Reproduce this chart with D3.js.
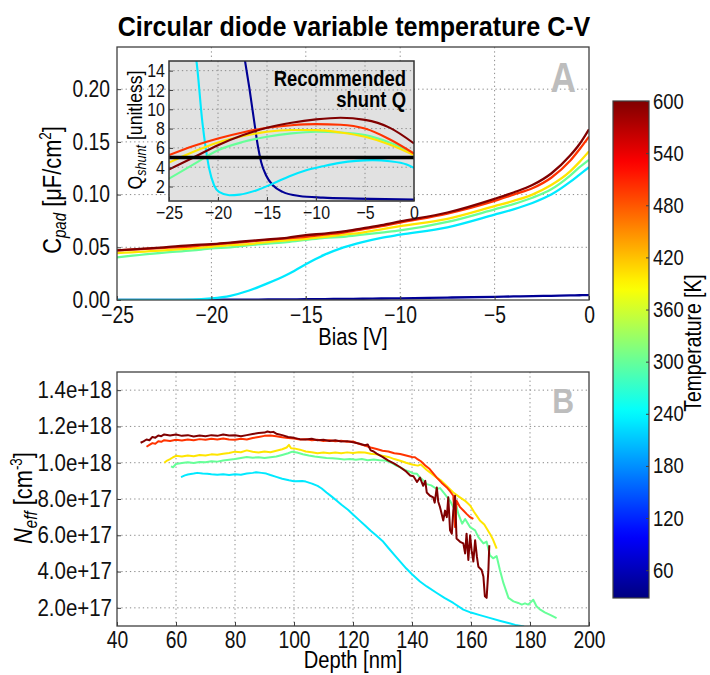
<!DOCTYPE html>
<html><head><meta charset="utf-8">
<script src="https://cdn.jsdelivr.net/npm/d3@7"></script>
<style>
body{margin:0;background:#fff}
svg{font-family:"Liberation Sans",Arial,Helvetica,sans-serif}
</style></head><body>
<svg id="chart" width="710" height="675"></svg>
<script>
// ---------------- DATA ----------------
const titleText = "Circular diode variable temperature C-V";
const temps = [40, 230, 300, 400, 500, 600];          // K, one per series
const tempDomain = [28, 600];
const cbTicks = [60, 120, 180, 240, 300, 360, 420, 480, 540, 600];

// Panel A: C_pad [uF/cm2] vs bias [V]
const biasA = [-25,-22.5,-21,-20,-19,-18,-17,-16,-15,-14,-13,-12,-11,-10,-7.5,-5,-4,-3,-2,-1,-0.5,0];
const cpad40  = [0,0,0,0.0002,0.0003,0.0004,0.0005,0.0006,0.0007,0.0009,0.0011,0.0012,0.0014,0.0016,0.0023,0.003,0.0034,0.0037,0.004,0.0044,0.0045,0.0047];
const cpad230 = [0,0,0.0003,0.0015,0.004,0.009,0.016,0.024,0.034,0.043,0.050,0.055,0.059,0.062,0.069,0.081,0.086,0.092,0.100,0.112,0.119,0.126];
const cpad300 = [0.0405,0.045,0.047,0.049,0.050,0.052,0.0535,0.055,0.057,0.059,0.060,0.062,0.064,0.066,0.074,0.086,0.091,0.097,0.105,0.118,0.126,0.133];
const cpad400 = [0.0445,0.047,0.049,0.0505,0.052,0.053,0.055,0.0565,0.058,0.060,0.062,0.064,0.067,0.070,0.077,0.089,0.094,0.100,0.109,0.122,0.131,0.141];
const cpad500 = [0.047,0.0495,0.051,0.0525,0.054,0.0555,0.057,0.0585,0.060,0.062,0.064,0.067,0.070,0.0735,0.082,0.094,0.100,0.106,0.116,0.132,0.143,0.155];
const cpad600 = [0.047,0.050,0.052,0.053,0.0545,0.056,0.0575,0.059,0.0615,0.063,0.065,0.068,0.071,0.0745,0.083,0.096,0.102,0.109,0.120,0.137,0.148,0.162];
const cpadSeries = [cpad40, cpad230, cpad300, cpad400, cpad500, cpad600];
const cpadTicks = [0, 0.05, 0.10, 0.15, 0.20];
const biasTicks = [-25, -20, -15, -10, -5, 0];

// Inset: Q_shunt vs bias
const biasQ = [-25,-22.5,-20,-17.5,-15,-12.5,-10,-7.5,-5,-2.5,0];
const q300 = [2.82,4.3,5.76,6.6,7.15,7.5,7.67,7.6,7.32,6.56,5.42];
const q400 = [4.48,5.6,6.56,7.2,7.67,7.85,7.84,7.6,7.15,6.35,5.25];
const q500 = [5.25,6.2,6.98,7.6,8.08,8.35,8.46,8.4,8.0,6.9,5.42];
const q600 = [3.76,5.0,6.28,7.3,8.08,8.6,8.95,9.12,8.9,8.1,6.46];
const biasQ230 = [-22.35,-22.2,-21.6,-21.24,-20.9,-20.4,-19.9,-18.85,-17.8,-16.1,-14.4,-12.7,-11,-9.3,-7.6,-5.9,-4.2,-2.46,-0.75,0];
const q230 = [16,15,8.7,5.9,3.86,2.13,1.44,1.1,1.16,1.6,2.3,3.07,3.69,4.1,4.45,4.66,4.73,4.62,4.28,3.93];
const biasQ40 = [-17.4,-16.8,-16.3,-15.95,-15.6,-15.1,-14.4,-13.4,-11.7,-9.3,-5.9,0];
const q40 = [16,12.2,8.7,6.3,4.55,3.17,2.13,1.44,1.02,0.85,0.75,0.64];
const qRecommended = 5;
const qTicks = [2, 4, 6, 8, 10, 12, 14];

// Panel B: N_eff [1e18 cm^-3] vs depth [nm]  ([depth, Neff/1e18])
const neff230 = [[61.7,0.921],[63,0.930],[64,0.935],[66,0.940],[67.2,0.944],[69,0.940],[70.6,0.939],[72,0.936],[74,0.934],[76,0.936],[78,0.932],[80,0.936],[82,0.934],[84,0.940],[86,0.944],[87.2,0.948],[89,0.944],[90.6,0.940],[92,0.932],[94,0.922],[96,0.912],[98.3,0.903],[100,0.898],[102.8,0.899],[104,0.896],[106.1,0.885],[108,0.872],[109.4,0.858],[111,0.836],[112.8,0.813],[114.5,0.790],[116.1,0.768],[118.3,0.741],[120,0.715],[122,0.685],[124,0.655],[126,0.625],[128,0.597],[130,0.569],[132,0.530],[134,0.492],[136,0.455],[138,0.418],[140,0.385],[142.7,0.345],[145,0.318],[148.4,0.282],[151,0.255],[154,0.227],[157.4,0.190],[160,0.174],[163,0.160],[166,0.146],[170,0.128],[173,0.115],[175,0.106],[178,0.097]];
const neff300 = [[58.3,0.980],[59,0.975],[60,0.993],[62,0.998],[64,1.002],[66,0.998],[68,1.004],[70,1.002],[72,1.008],[74,1.006],[76,1.012],[78,1.016],[80,1.020],[82,1.026],[84,1.032],[86,1.028],[88,1.030],[90,1.026],[92,1.030],[94,1.034],[96,1.043],[98,1.052],[99.4,1.061],[101,1.056],[103,1.047],[105,1.040],[107,1.034],[109,1.030],[111,1.026],[113,1.024],[115,1.022],[117,1.018],[119,1.020],[121,1.016],[123,1.020],[125,1.014],[127,1.018],[129,1.014],[131,1.012],[133,1.000],[134.5,0.985],[136,0.975],[137.5,0.960],[139,0.952],[140.5,0.940],[141.7,0.939],[142.7,0.918],[144,0.900],[145,0.882],[146.5,0.875],[148.4,0.855],[149.5,0.860],[151,0.830],[152.9,0.790],[154,0.755],[155,0.765],[155.7,0.718],[157,0.664],[158,0.690],[159.7,0.645],[161.4,0.627],[162.5,0.590],[164.2,0.555],[165.3,0.565],[166.4,0.490],[167.5,0.473],[168.7,0.485],[169.8,0.409],[171,0.336],[172.7,0.255],[174.4,0.236],[176,0.227],[177.2,0.218],[178.3,0.225],[179.4,0.218],[181.1,0.245],[182.2,0.209],[183.5,0.190],[185,0.175],[187,0.160],[189,0.143]];
const neff400 = [[56,1.000],[57,1.012],[58,1.020],[59,1.030],[60,1.038],[62,1.034],[64,1.040],[66,1.036],[68,1.042],[70,1.040],[72,1.046],[74,1.044],[76,1.050],[78,1.054],[80,1.061],[82,1.058],[84,1.068],[86,1.060],[88,1.056],[90,1.062],[92,1.058],[94,1.066],[96,1.074],[97.5,1.084],[98.3,1.098],[99,1.080],[100,1.079],[102,1.072],[104,1.062],[106,1.058],[108,1.052],[110,1.056],[112,1.052],[114,1.056],[116,1.052],[118,1.057],[120,1.054],[122,1.058],[124,1.056],[126,1.050],[128,1.046],[130,1.038],[132,1.032],[134,1.020],[136,1.011],[138,1.000],[140,0.990],[142,0.984],[143,0.990],[145,0.960],[148.4,0.918],[150,0.900],[152,0.868],[154,0.836],[156,0.812],[158,0.790],[159.7,0.764],[161,0.730],[163,0.682],[164.5,0.660],[166.4,0.609],[167.5,0.575],[168.7,0.527]];
const neff500 = [[50,1.088],[51,1.098],[52,1.108],[53,1.105],[54,1.118],[55,1.115],[56,1.124],[58,1.120],[60,1.127],[62,1.122],[64,1.128],[66,1.124],[68,1.130],[70,1.126],[72,1.132],[74,1.128],[76,1.134],[78,1.128],[80,1.126],[82,1.132],[84,1.128],[86,1.136],[88,1.142],[90,1.148],[92,1.150],[94,1.146],[96,1.140],[98,1.136],[100,1.134],[102,1.128],[104,1.130],[106,1.124],[108,1.126],[110,1.120],[112,1.124],[114,1.118],[116,1.121],[118,1.115],[120,1.117],[122,1.104],[124,1.094],[126,1.084],[128,1.076],[130,1.066],[132,1.062],[134,1.052],[136,1.048],[138,1.040],[140,1.032],[141,1.030],[142,1.018],[143,1.008],[144.5,0.985],[146,0.965],[148.4,0.918],[150,0.890],[151.8,0.864],[153,0.840],[154,0.818],[154.6,0.645],[155.1,0.790],[156.3,0.755],[157.5,0.735],[158.5,0.718],[159.7,0.700],[160.8,0.690]];
const neff600 = [[48,1.110],[49,1.118],[50,1.128],[51,1.124],[52,1.142],[53,1.138],[54,1.150],[55,1.146],[56,1.156],[58,1.150],[60,1.156],[62,1.148],[64,1.152],[66,1.145],[68,1.150],[70,1.146],[72,1.152],[74,1.148],[76,1.156],[78,1.150],[80,1.151],[82,1.146],[84,1.152],[86,1.158],[88,1.164],[90,1.166],[91,1.172],[92,1.168],[93,1.170],[94,1.160],[96,1.152],[98,1.142],[100,1.137],[102,1.130],[104,1.128],[106,1.132],[108,1.124],[110,1.126],[112,1.120],[114,1.124],[116,1.117],[118,1.119],[120,1.113],[122,1.106],[124,1.096],[125,1.100],[126,1.068],[127,1.062],[128,1.050],[130,1.032],[132,1.012],[134,0.995],[136,0.975],[138,0.952],[139.4,0.930],[140.5,0.925],[141.7,0.894],[142.7,0.918],[143.8,0.873],[144.5,0.900],[145,0.836],[146.1,0.818],[147.2,0.809],[147.7,0.780],[148.4,0.864],[148.9,0.785],[149.5,0.755],[150.6,0.682],[151.2,0.736],[151.8,0.700],[152.3,0.810],[152.9,0.627],[153.5,0.609],[154,0.736],[154.6,0.818],[155.1,0.582],[156.3,0.564],[157.4,0.555],[158,0.500],[158.5,0.609],[159.1,0.464],[159.7,0.600],[160.2,0.518],[160.8,0.455],[161.4,0.573],[162,0.482],[162.5,0.427],[163.6,0.409],[164.2,0.373],[164.7,0.264],[165.3,0.255],[165.9,0.410],[166.2,0.545]];
const neffSeries = [null, neff230, neff300, neff400, neff500, neff600];
const neffUnit = 1e18;
const neffTicks = [2e17, 4e17, 6e17, 8e17, 1.0e18, 1.2e18, 1.4e18];
const depthTicks = [40, 60, 80, 100, 120, 140, 160, 180, 200];

// ---------------- HELPERS ----------------
function jet(t) {
  const c = v => Math.max(0, Math.min(1, v));
  return d3.rgb(255 * c(1.5 - Math.abs(4 * t - 3)), 255 * c(1.5 - Math.abs(4 * t - 2)), 255 * c(1.5 - Math.abs(4 * t - 1))).formatHex();
}
const tNorm = d3.scaleLinear().domain(tempDomain).range([0, 1]);
const colorOf = T => jet(tNorm(T));

const svg = d3.select("#chart");
const FRAME = "#404040", GRID = "#8a8a8a";
const SQ = 0.84;   // horizontal condensing of the sans font

const title = svg.append("text").attr("x", 354).attr("y", 36).attr("text-anchor", "middle")
  .attr("font-size", 28).attr("font-weight", "bold").text(titleText);

function panel(g, x, y, opts) {
  const [x0, x1] = x.range(), [y1, y0] = y.range();
  if (opts.bg) g.append("rect").attr("x", x0).attr("y", y0).attr("width", x1 - x0).attr("height", y1 - y0).attr("fill", opts.bg);
  g.append("g").selectAll("line").data(opts.xt.filter(v => v !== x.domain()[0] && v !== x.domain()[1])).join("line")
    .attr("x1", d => x(d)).attr("x2", d => x(d)).attr("y1", y0).attr("y2", y1)
    .attr("stroke", GRID).attr("stroke-width", 1).attr("stroke-dasharray", "1.3,3");
  g.append("g").selectAll("line").data(opts.yt.filter(v => y(v) > y0 + 1 && y(v) < y1 - 1)).join("line")
    .attr("y1", d => y(d)).attr("y2", d => y(d)).attr("x1", x0).attr("x2", x1)
    .attr("stroke", GRID).attr("stroke-width", 1).attr("stroke-dasharray", "1.3,3");
}
function frame(g, x, y, opts) {
  const [x0, x1] = x.range(), [y1, y0] = y.range();
  g.append("rect").attr("x", x0).attr("y", y0).attr("width", x1 - x0).attr("height", y1 - y0)
    .attr("fill", "none").attr("stroke", opts.stroke || FRAME).attr("stroke-width", opts.sw || 1.3);
  const xa = d3.axisBottom(x).tickValues(opts.xt).tickSize(-4).tickFormat(opts.xf).tickPadding(opts.xpad);
  const gx = g.append("g").attr("transform", `translate(0,${y1})`).call(xa);
  const ya = d3.axisLeft(y).tickValues(opts.yt).tickSize(-4).tickFormat(opts.yf).tickPadding(opts.ypad);
  const gy = g.append("g").attr("transform", `translate(${x0},0)`).call(ya);
  [gx, gy].forEach(a => {
    a.select(".domain").remove();
    a.selectAll("line").attr("stroke", FRAME);
    a.selectAll("text").attr("font-size", opts.fs).attr("fill", "#111").attr("font-family", null);
  });
  gx.selectAll("text").attr("dy", opts.xdy);
  if (opts.ysq) gy.selectAll("text").attr("data-sq", opts.ysq);
}

// ---------------- PANEL A ----------------
const xA = d3.scaleLinear().domain([-25, 0]).range([117, 589]);
const yA = d3.scaleLinear().domain([0, 0.24]).range([300, 47]);
const gA = svg.append("g");
svg.append("clipPath").attr("id", "clipA").append("rect").attr("x", 117).attr("y", 47).attr("width", 472).attr("height", 253);
panel(gA, xA, yA, { xt: biasTicks, yt: cpadTicks });
const lineA = d3.line().x((d, i) => xA(biasA[i])).y(d => yA(d)).curve(d3.curveMonotoneX);
gA.append("g").attr("clip-path", "url(#clipA)").selectAll("path").data(cpadSeries).join("path")
  .attr("d", d => lineA(d)).attr("fill", "none").attr("stroke", (d, i) => colorOf(temps[i])).attr("stroke-width", 2.3);
frame(gA, xA, yA, { xt: biasTicks, yt: cpadTicks, xf: d3.format("d"), yf: d3.format(".2f"), fs: 23, xpad: 6, ypad: 7, xdy: "0.72em" });
gA.append("text").attr("x", 576).attr("y", 92).attr("text-anchor", "end").attr("font-size", 42)
  .attr("font-weight", "bold").attr("fill", "#bdbdbd").text("A");
gA.append("text").attr("x", 353).attr("y", 345).attr("text-anchor", "middle").attr("font-size", 24).text("Bias [V]");
{
  const t = gA.append("text").attr("transform", "translate(61,190) rotate(-90)").attr("text-anchor", "middle").attr("font-size", 26);
  t.append("tspan").text("C");
  t.append("tspan").attr("font-style", "italic").attr("font-size", 18).attr("dy", 5).text("pad");
  t.append("tspan").attr("dy", -5).text(" [μF/cm");
  t.append("tspan").attr("font-size", 16).attr("dy", -10).text("2");
  t.append("tspan").attr("dy", 10).text("]");
}

// ---------------- INSET ----------------
const xQ = d3.scaleLinear().domain([-25, 0]).range([169, 414]);
const yQ = d3.scaleLinear().domain([0.5, 15]).range([201, 61]);
const gQ = svg.append("g");
svg.append("clipPath").attr("id", "clipQ").append("rect").attr("x", 169).attr("y", 61).attr("width", 245).attr("height", 140);
panel(gQ, xQ, yQ, { xt: biasTicks, yt: qTicks, bg: "#e1e1e1" });
const lineQ = bx => d3.line().x((d, i) => xQ(bx[i])).y(d => yQ(d)).curve(d3.curveMonotoneX);
const qSeries = [[biasQ40, q40, 40], [biasQ230, q230, 230], [biasQ, q300, 300], [biasQ, q400, 400], [biasQ, q500, 500], [biasQ, q600, 600]];
const gQl = gQ.append("g").attr("clip-path", "url(#clipQ)");
gQl.selectAll("path").data(qSeries).join("path")
  .attr("d", d => lineQ(d[0])(d[1])).attr("fill", "none").attr("stroke", d => colorOf(d[2])).attr("stroke-width", 2.1);
gQl.append("line").attr("x1", xQ(-25)).attr("x2", xQ(0)).attr("y1", yQ(qRecommended)).attr("y2", yQ(qRecommended))
  .attr("stroke", "#000").attr("stroke-width", 3.5);
frame(gQ, xQ, yQ, { xt: biasTicks, yt: qTicks, xf: d3.format("d"), yf: d3.format("d"), fs: 19, xpad: 4, ypad: 4, xdy: "0.72em", stroke: "#333", sw: 1.5 });
gQ.append("text").attr("x", 406).attr("y", 86).attr("text-anchor", "end").attr("font-size", 22).attr("font-weight", "bold").text("Recommended");
gQ.append("text").attr("x", 406).attr("y", 107).attr("text-anchor", "end").attr("font-size", 22).attr("font-weight", "bold").text("shunt Q");
{
  const t = gQ.append("text").attr("transform", "translate(142,130) rotate(-90)").attr("text-anchor", "middle").attr("font-size", 21);
  t.append("tspan").text("Q");
  t.append("tspan").attr("font-style", "italic").attr("font-size", 15).attr("dy", 4).text("shunt");
  t.append("tspan").attr("dy", -4).text(" [unitless]");
}

// ---------------- PANEL B ----------------
const xB = d3.scaleLinear().domain([40, 200]).range([117, 589]);
const yB = d3.scaleLinear().domain([1e17, 1.5e18]).range([626, 372]);
const gB = svg.append("g");
svg.append("clipPath").attr("id", "clipB").append("rect").attr("x", 117).attr("y", 372).attr("width", 472).attr("height", 254);
panel(gB, xB, yB, { xt: depthTicks, yt: neffTicks });
const lineB = d3.line().x(d => xB(d[0])).y(d => yB(d[1] * neffUnit));
const bSeries = neffSeries.map((s, i) => [s, temps[i]]).filter(d => d[0]);
gB.append("g").attr("clip-path", "url(#clipB)").selectAll("path").data(bSeries).join("path")
  .attr("d", d => lineB(d[0])).attr("fill", "none").attr("stroke", d => colorOf(d[1])).attr("stroke-width", 2)
  .attr("stroke-linejoin", "round");
frame(gB, xB, yB, { xt: depthTicks, yt: neffTicks, xf: d3.format("d"), yf: d3.format(".1e"), fs: 23, xpad: 5, ypad: 5, xdy: "0.72em", ysq: 0.89 });
gB.append("text").attr("x", 574).attr("y", 413).attr("text-anchor", "end").attr("font-size", 36)
  .attr("font-weight", "bold").attr("fill", "#bdbdbd").text("B");
gB.append("text").attr("x", 353).attr("y", 668).attr("text-anchor", "middle").attr("font-size", 24).text("Depth [nm]");
{
  const t = gB.append("text").attr("transform", "translate(32,498) rotate(-90)").attr("text-anchor", "middle").attr("font-size", 26);
  t.append("tspan").attr("font-style", "italic").text("N");
  t.append("tspan").attr("font-style", "italic").attr("font-size", 18).attr("dy", 5).text("eff");
  t.append("tspan").attr("dy", -5).text(" [cm");
  t.append("tspan").attr("font-size", 16).attr("dy", -10).text("-3");
  t.append("tspan").attr("dy", 10).text("]");
}

// ---------------- COLORBAR ----------------
const cbY = d3.scaleLinear().domain(tempDomain).range([598, 101]);
const grad = svg.append("defs").append("linearGradient").attr("id", "jetGrad")
  .attr("x1", 0).attr("y1", 1).attr("x2", 0).attr("y2", 0);
d3.range(0, 1.0001, 0.02).forEach(t => grad.append("stop").attr("offset", t).attr("stop-color", jet(t)));
svg.append("rect").attr("x", 613).attr("y", 101).attr("width", 36).attr("height", 497)
  .attr("fill", "url(#jetGrad)").attr("stroke", "#404040").attr("stroke-width", 1.2);
const cbAxis = d3.axisRight(cbY).tickValues(cbTicks).tickSize(-3).tickPadding(4).tickFormat(d3.format("d"));
const gcb = svg.append("g").attr("transform", "translate(649,0)").call(cbAxis);
gcb.select(".domain").remove();
gcb.selectAll("line").attr("stroke", "#404040");
gcb.selectAll("text").attr("font-size", 22).attr("font-family", null).attr("fill", "#111");
svg.append("text").attr("transform", "translate(701,343) rotate(-90)").attr("text-anchor", "middle")
  .attr("font-size", 23).text("Temperature [K]");

// ---------------- condense all text horizontally (Helvetica-Condensed look) ----------------
const titleW = title.node().getComputedTextLength();
title.attr("data-sq", 473 / titleW);
svg.selectAll("text").each(function () {
  const t = d3.select(this);
  const f = +(t.attr("data-sq") || SQ);
  const x = +t.attr("x") || 0, y = +t.attr("y") || 0;
  const tr = t.attr("transform") || "";
  t.attr("transform", `${tr} translate(${x},${y}) scale(${f},1) translate(${-x},${-y})`);
});
</script>
</body></html>
